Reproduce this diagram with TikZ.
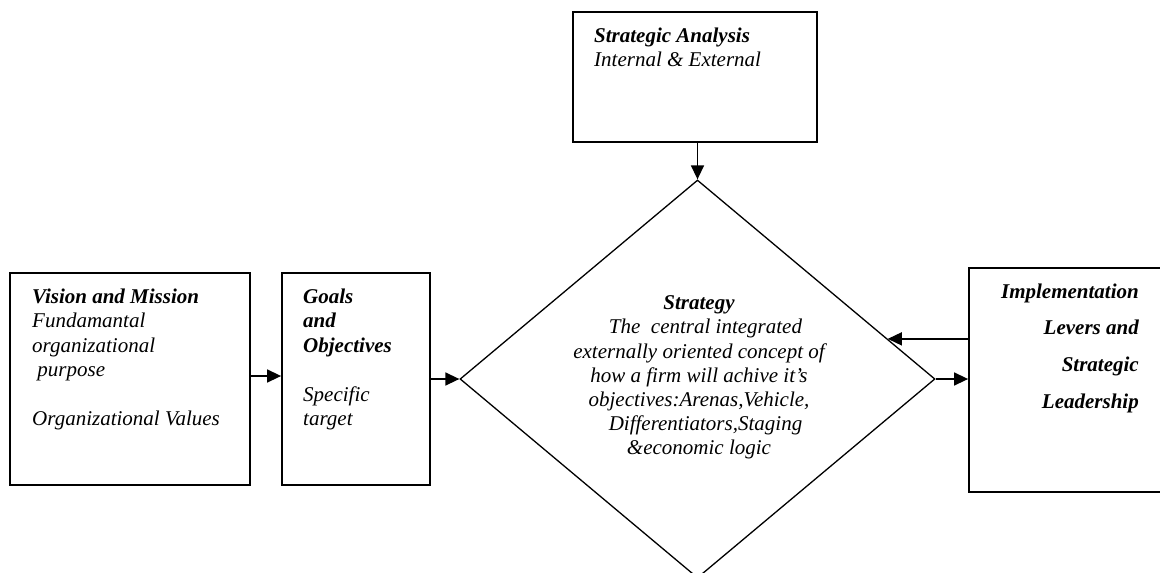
\documentclass[tikz,border=0pt]{standalone}
\usepackage{fontspec}
\setmainfont{Liberation Serif}
\usetikzlibrary{shapes.geometric,arrows.meta,calc}
\begin{document}
\begin{tikzpicture}[x=1pt,y=-1pt,
  box/.style={draw,line width=1.8pt,rectangle,inner sep=0pt,fill=white},
  txt/.style={inner sep=0pt,font=\fontsize{21}{24.5}\selectfont\itshape},
  arr/.style={line width=1.5pt,-{Triangle[length=14pt,width=13pt]}}
]
\useasboundingbox (0,0) rectangle (1160,573);
\clip (0,0) rectangle (1160,573);
\fill[white] (0,0) rectangle (1160,573);

% boxes
\node[box,minimum width=240pt,minimum height=212pt] (vis) at (130,379) {};
\node[box,minimum width=148pt,minimum height=212pt] (goals) at (356,379) {};
\node[box,minimum width=244pt,minimum height=130pt] (sa) at (695,77) {};
\node[box,minimum width=206pt,minimum height=224pt] (impl) at (1072,380) {};
\node[diamond,draw,line width=1.3pt,fill=white,minimum width=475pt,minimum height=398pt,inner sep=0pt] (dia) at (697.5,379) {};
\coordinate (hit) at ($(dia.east)!0.201!(dia.north)$);

% texts
\node[txt,anchor=north west,align=left] (vistext) at (32,288.5)
  {\textbf{Vision and Mission}\\Fundamantal\\organizational\\ \ purpose\\[24.5pt]Organizational Values};
\node[txt,anchor=north west,align=left] (goalstext) at (303,288.5)
  {\textbf{Goals}\\\textbf{and}\\\textbf{Objectives}\\[24.5pt]Specific\\target};
\node[txt,anchor=north west,align=left] (satext) at (594,27.5)
  {\textbf{Strategic Analysis}\\Internal \& External};
\node[txt,anchor=north,align=center,font=\fontsize{21}{24.2}\selectfont\itshape] (diatext) at (699,295.5)
  {\textbf{Strategy}\\\hspace*{13pt}The\ \ central integrated\\externally oriented concept of\\how a firm will achive it’s\\objectives:Arenas,Vehicle,\\\hspace*{13pt}Differentiators,Staging\\\&economic logic};
\node[txt,anchor=north east,align=right,font=\fontsize{21}{36.7}\selectfont\bfseries\itshape] (impltext) at (1139,283.5)
  {Implementation\\Levers and\\Strategic\\Leadership};

% connectors
\draw[arr] ([yshift=3pt]vis.east) -- ([yshift=3pt]goals.west);
\draw[arr] (goals.east) -- (dia.west);
\draw[arr] (sa.south -| dia.north) -- (dia.north);
\draw[arr] (dia.east) -- (dia.east -| impl.west);
\draw[arr] (hit -| impl.west) -- (hit);
\end{tikzpicture}
\end{document}
